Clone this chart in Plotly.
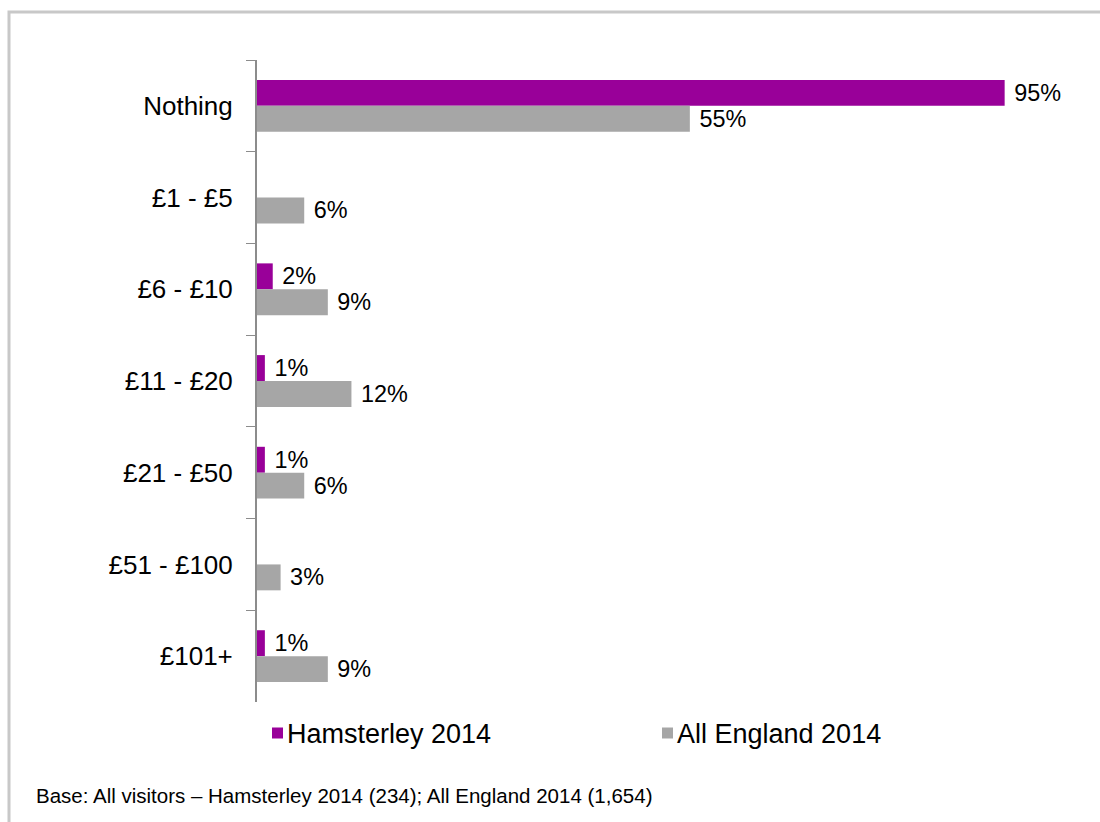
import plotly.graph_objects as go

# Amount spent on the visit, by visitor group (percent of visitors)
categories = ["Nothing", "£1 - £5", "£6 - £10", "£11 - £20", "£21 - £50", "£51 - £100", "£101+"]
hamsterley_2014 = [95, None, 2, 1, 1, None, 1]
all_england_2014 = [55, 6, 9, 12, 6, 3, 9]
series_names = ["Hamsterley 2014", "All England 2014"]
series_colors = ["#990099", "#A6A6A6"]
footnote = "Base: All visitors – Hamsterley 2014 (234); All England 2014 (1,654)"

W, H = 1100, 822
M_L, M_R, M_T, M_B = 257, 56, 60, 120
PW, PH = W - M_L - M_R, H - M_T - M_B
FONT = "Liberation Sans, Arial, sans-serif"


def px_x(px):
    """Pixel column -> paper x."""
    return (px - M_L) / PW


def px_y(py):
    """Pixel row -> paper y."""
    return (H - M_B - py) / PH


def labels(vals):
    return [None if v is None else f"\u00a0{v}%" for v in vals]


fig = go.Figure()
for name, vals, col in zip(series_names, [hamsterley_2014, all_england_2014], series_colors):
    fig.add_trace(go.Bar(
        y=categories, x=vals, name=name, orientation="h",
        marker=dict(color=col, line=dict(width=0)),
        text=labels(vals), textposition="outside", cliponaxis=False,
        textfont=dict(family=FONT, size=23.5, color="#000000"),
        hoverinfo="skip", showlegend=False,
    ))

# Legend keys: a small square swatch followed by the series name
legend_x = [272, 662]
legend_y = 733
shapes = [dict(
    type="rect", xref="paper", yref="paper",
    x0=px_x(9), y0=px_y(H + 20), x1=px_x(W + 20), y1=px_y(12),
    line=dict(color="#C8C8C8", width=3), fillcolor="rgba(0,0,0,0)", layer="below",
)]
annotations = []
for name, col, lx in zip(series_names, series_colors, legend_x):
    shapes.append(dict(
        type="rect", xref="paper", yref="paper",
        x0=px_x(lx), x1=px_x(lx + 11), y0=px_y(legend_y + 5.5), y1=px_y(legend_y - 5.5),
        line=dict(width=0), fillcolor=col,
    ))
    annotations.append(dict(
        text=name, xref="paper", yref="paper", x=px_x(lx + 13), y=px_y(legend_y + 1),
        xanchor="left", yanchor="middle", showarrow=False,
        font=dict(family=FONT, size=27, color="#000000"),
    ))
annotations.append(dict(
    text=footnote, xref="paper", yref="paper", x=px_x(34), y=px_y(795),
    xanchor="left", yanchor="middle", showarrow=False,
    font=dict(family=FONT, size=20.5, color="#000000"),
))

fig.update_layout(
    width=W, height=H,
    margin=dict(l=M_L, r=M_R, t=M_T, b=M_B),
    paper_bgcolor="white", plot_bgcolor="white",
    barmode="group", bargap=0.435, bargroupgap=0,
    font=dict(family=FONT, color="#000000"),
    xaxis=dict(range=[0, 100], visible=False, fixedrange=True),
    yaxis=dict(
        autorange="reversed", showline=True, linecolor="#8C8C8C", linewidth=2,
        ticks="outside", tickson="boundaries", ticklen=9, tickcolor="#8C8C8C", tickwidth=1,
        ticklabelstandoff=17, showgrid=False, zeroline=False,
        tickfont=dict(size=26, color="#000000"), fixedrange=True,
    ),
    showlegend=False,
    annotations=annotations,
    shapes=shapes,
)

fig.write_html("out.html", config={"displayModeBar": False})
